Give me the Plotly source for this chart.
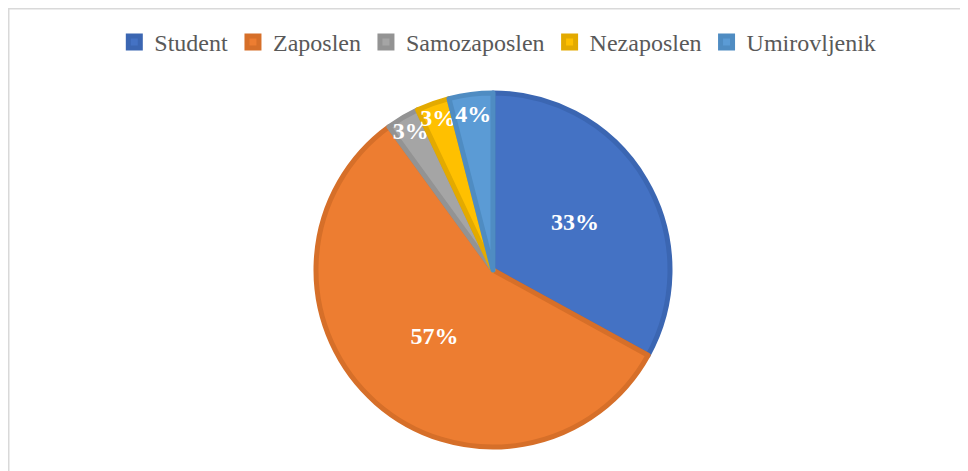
import plotly.graph_objects as go

categories = ["Student", "Zaposlen", "Samozaposlen", "Nezaposlen", "Umirovljenik"]
values = [33, 57, 3, 3, 4]
colors = ["#4472C4", "#ED7D31", "#A5A5A5", "#FFC000", "#5B9BD5"]
edge_colors = ["#3B66B2", "#D66F29", "#939393", "#E3AA00", "#4F8CC2"]

SERIF = "Times New Roman, Liberation Serif, serif"

fig = go.Figure(go.Pie(
    labels=categories,
    values=values,
    sort=False,
    direction="clockwise",
    rotation=0,
    marker=dict(colors=colors, line=dict(color=edge_colors, width=5)),
    texttemplate="%{percent:.0%}",
    textposition="inside",
    insidetextorientation="horizontal",
    textfont=dict(family=SERIF, size=24, color="white", weight="bold"),
    hole=0,
))

fig.update_layout(
    width=968, height=471,
    margin=dict(l=2, r=0, t=85, b=32, autoexpand=False),
    paper_bgcolor="white",
    plot_bgcolor="white",
    uniformtext=dict(minsize=24, mode="show"),
    showlegend=True,
    legend=dict(
        orientation="h",
        xref="container", yref="container",
        x=0.506, xanchor="center",
        y=0.975, yanchor="top",
        font=dict(family=SERIF, size=24, color="#595959"),
        traceorder="normal",
    ),
    shapes=[dict(type="rect", xref="paper", yref="paper",
                 x0=-0.0013, x1=1.05, y0=-0.3, y1=1.238,
                 line=dict(color="#D9D9D9", width=1.5), layer="below")],
)

fig.write_html("out.html")
